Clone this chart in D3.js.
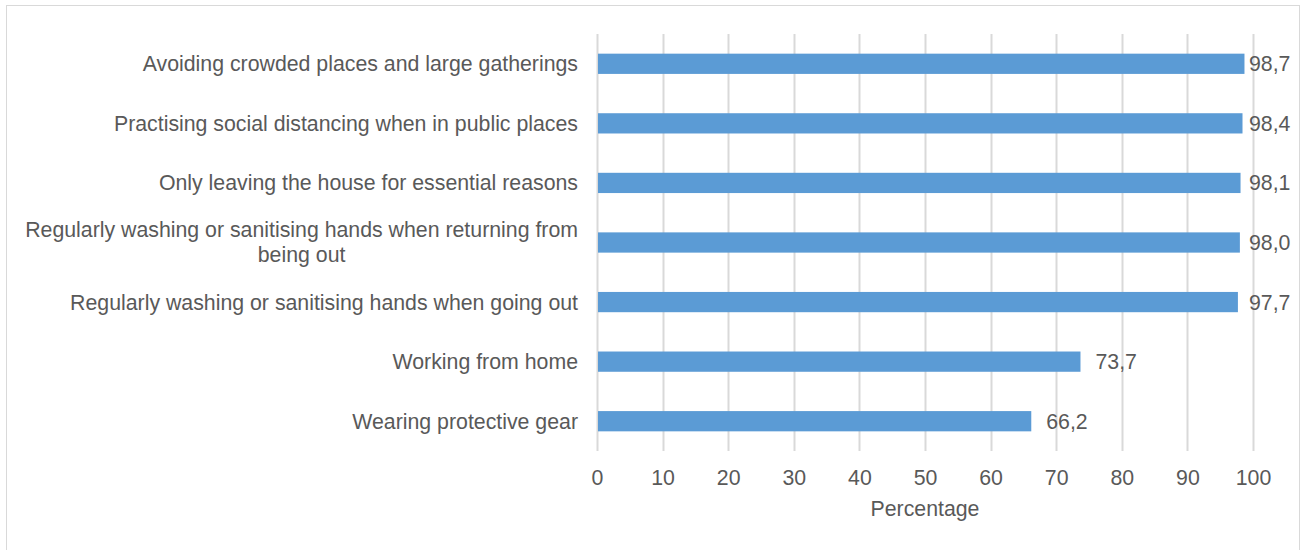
<!DOCTYPE html>
<html><head><meta charset="utf-8">
<script src="https://cdn.jsdelivr.net/npm/d3@7"></script>
<style>body{margin:0;background:#fff;}svg{display:block;font-family:"Liberation Sans",Arial,sans-serif;}</style>
</head><body>
<svg id="c" width="1302" height="550"></svg>
<script>
const categories = [
  ["Avoiding crowded places and large gatherings"],
  ["Practising social distancing when in public places"],
  ["Only leaving the house for essential reasons"],
  ["Regularly washing or sanitising hands when returning from", "being out"],
  ["Regularly washing or sanitising hands when going out"],
  ["Working from home"],
  ["Wearing protective gear"]
];
const values = [98.7, 98.4, 98.1, 98.0, 97.7, 73.7, 66.2];
const valueLabels = ["98,7", "98,4", "98,1", "98,0", "97,7", "73,7", "66,2"];
const xTicks = [0, 10, 20, 30, 40, 50, 60, 70, 80, 90, 100];
const axisTitle = "Percentage";

const svg = d3.select("#c");
const textColor = "#595959", gridColor = "#d9d9d9", barColor = "#5b9bd5";
const fs = 21.3;

svg.append("rect").attr("x", 6.5).attr("y", 5.5).attr("width", 1293).attr("height", 560)
  .attr("fill", "#fff").attr("stroke", gridColor).attr("stroke-width", 1);

const x = d3.scaleLinear().domain([0, 100]).range([597, 1253]);
const y = d3.scaleBand().domain(d3.range(categories.length)).range([34, 451]).paddingInner(0.66).paddingOuter(0.33);

// gridlines
svg.append("g").selectAll("line").data(xTicks).join("line")
  .attr("x1", d => Math.round(x(d)) + 0.5).attr("x2", d => Math.round(x(d)) + 0.5)
  .attr("y1", 34).attr("y2", 451)
  .attr("stroke", gridColor).attr("stroke-width", 2);

// bars
svg.append("g").selectAll("rect").data(values).join("rect")
  .attr("x", x(0) + 1).attr("y", (d, i) => y(i))
  .attr("width", d => x(d) - x(0) - 1).attr("height", y.bandwidth())
  .attr("fill", barColor);

// value labels (outside end, kept inside the chart area)
svg.append("g").selectAll("text").data(values).join("text")
  .attr("x", d => Math.min(x(d) + 15, 1249)).attr("y", (d, i) => y(i) + y.bandwidth() / 2)
  .attr("dy", "0.35em").attr("font-size", fs).attr("fill", textColor)
  .text((d, i) => valueLabels[i]);

// category labels
const lh = 25;
categories.forEach((lines, i) => {
  const cy = y(i) + y.bandwidth() / 2;
  const g = svg.append("text").attr("font-size", fs).attr("fill", textColor);
  if (lines.length === 1) {
    g.attr("x", 578).attr("y", cy).attr("dy", "0.35em").attr("text-anchor", "end").text(lines[0]);
  } else {
    const tmp = svg.append("text").attr("font-size", fs).text(lines[0]);
    const w = tmp.node().getComputedTextLength(); tmp.remove();
    const cx = 578 - w / 2;
    lines.forEach((ln, k) => {
      g.append("tspan").attr("x", cx).attr("text-anchor", "middle")
        .attr("y", cy + (k - (lines.length - 1) / 2) * lh).attr("dy", "0.35em").text(ln);
    });
  }
});

// x tick labels
const ax = svg.append("g").attr("transform", "translate(0,451)")
  .call(d3.axisBottom(x).tickValues(xTicks).tickSize(0).tickPadding(19));
ax.select(".domain").remove();
ax.selectAll("text").attr("font-size", fs).attr("fill", textColor).attr("font-family", "Liberation Sans, Arial, sans-serif");

svg.append("text").attr("x", x(50)).attr("y", 509).attr("dy", "0.35em")
  .attr("text-anchor", "middle").attr("font-size", fs).attr("fill", textColor).text(axisTitle);
</script>
</body></html>
